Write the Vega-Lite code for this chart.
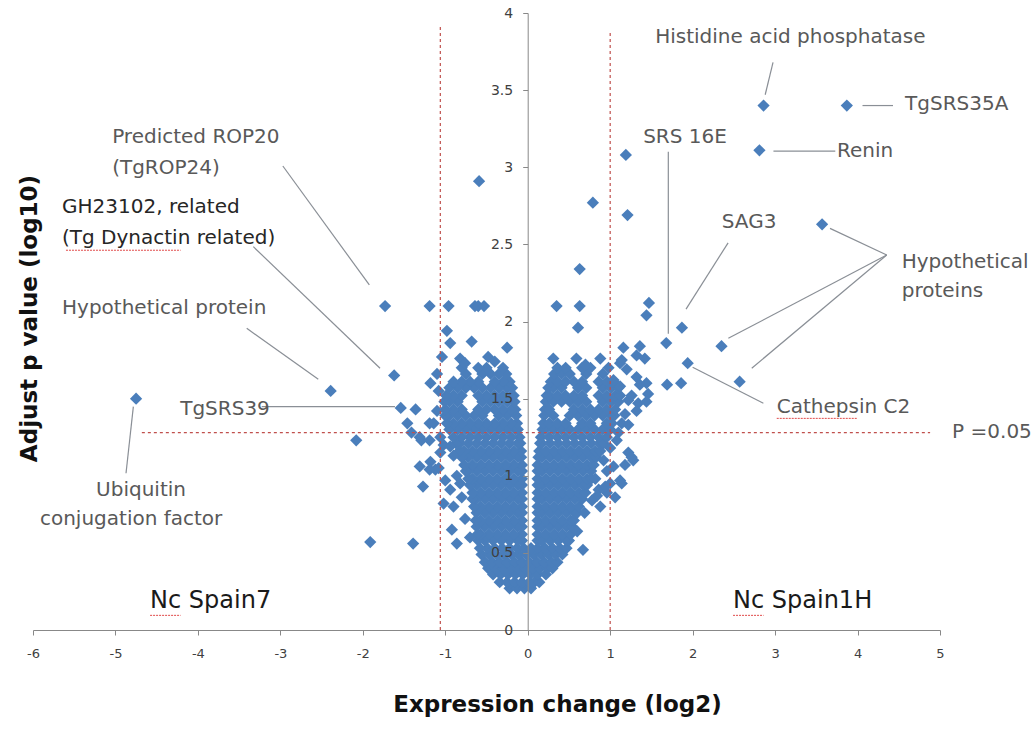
{
"$schema": "https://vega.github.io/schema/vega-lite/v6.json",
"width": 907, "height": 617,
"autosize": {"type": "none"},
"padding": {"left": 33, "top": 13, "right": 96, "bottom": 107},
"background": "white",
"config": {"view": {"stroke": null}, "font": "DejaVu Sans"},
"datasets": {
"pts": [
{"x":-0.22,"y":0.27},{"x":-0.13,"y":0.27},{"x":-0.04,"y":0.27},{"x":0.04,"y":0.27},
{"x":-0.34,"y":0.31},{"x":-0.25,"y":0.31},{"x":-0.16,"y":0.31},{"x":-0.07,"y":0.31},{"x":0.02,"y":0.31},{"x":0.08,"y":0.31},{"x":0.14,"y":0.31},
{"x":-0.42,"y":0.36},{"x":-0.33,"y":0.36},{"x":-0.24,"y":0.36},{"x":-0.15,"y":0.36},{"x":-0.06,"y":0.36},{"x":0.03,"y":0.36},{"x":0.12,"y":0.36},{"x":0.22,"y":0.36},
{"x":-0.48,"y":0.40},{"x":-0.39,"y":0.40},{"x":-0.3,"y":0.40},{"x":-0.21,"y":0.40},{"x":-0.12,"y":0.40},{"x":-0.03,"y":0.40},{"x":0.06,"y":0.40},{"x":0.15,"y":0.40},{"x":0.24,"y":0.40},{"x":0.3,"y":0.40},
{"x":-0.52,"y":0.44},{"x":-0.43,"y":0.44},{"x":-0.34,"y":0.44},{"x":-0.25,"y":0.44},{"x":-0.16,"y":0.44},{"x":-0.07,"y":0.44},{"x":0.02,"y":0.44},{"x":0.11,"y":0.44},{"x":0.2,"y":0.44},{"x":0.29,"y":0.44},{"x":0.36,"y":0.44},
{"x":-0.56,"y":0.49},{"x":-0.47,"y":0.49},{"x":-0.38,"y":0.49},{"x":-0.29,"y":0.49},{"x":-0.2,"y":0.49},{"x":-0.11,"y":0.49},{"x":-0.02,"y":0.49},{"x":0.07,"y":0.49},{"x":0.16,"y":0.49},{"x":0.25,"y":0.49},{"x":0.34,"y":0.49},{"x":0.42,"y":0.49},
{"x":-0.58,"y":0.53},{"x":-0.49,"y":0.53},{"x":-0.4,"y":0.53},{"x":-0.31,"y":0.53},{"x":-0.22,"y":0.53},{"x":-0.13,"y":0.53},{"x":-0.05,"y":0.53},{"x":0.04,"y":0.53},{"x":0.12,"y":0.53},{"x":0.21,"y":0.53},{"x":0.3,"y":0.53},{"x":0.39,"y":0.53},{"x":0.47,"y":0.53},
{"x":-0.07,"y":0.58},{"x":-0.12,"y":0.58},{"x":-0.22,"y":0.58},{"x":-0.32,"y":0.58},{"x":-0.42,"y":0.58},{"x":-0.52,"y":0.58},{"x":-0.6,"y":0.58},{"x":0.12,"y":0.58},{"x":0.17,"y":0.58},{"x":0.27,"y":0.58},{"x":0.37,"y":0.58},{"x":0.47,"y":0.58},{"x":0.5,"y":0.58},
{"x":-0.07,"y":0.62},{"x":-0.17,"y":0.62},{"x":-0.27,"y":0.62},{"x":-0.37,"y":0.62},{"x":-0.47,"y":0.62},{"x":-0.57,"y":0.62},{"x":-0.61,"y":0.62},{"x":0.12,"y":0.62},{"x":0.22,"y":0.62},{"x":0.32,"y":0.62},{"x":0.42,"y":0.62},{"x":0.52,"y":0.62},
{"x":-0.07,"y":0.67},{"x":-0.12,"y":0.67},{"x":-0.22,"y":0.67},{"x":-0.32,"y":0.67},{"x":-0.42,"y":0.67},{"x":-0.52,"y":0.67},{"x":-0.62,"y":0.67},{"x":0.12,"y":0.67},{"x":0.17,"y":0.67},{"x":0.27,"y":0.67},{"x":0.37,"y":0.67},{"x":0.47,"y":0.67},{"x":0.54,"y":0.67},
{"x":-0.07,"y":0.71},{"x":-0.17,"y":0.71},{"x":-0.27,"y":0.71},{"x":-0.37,"y":0.71},{"x":-0.47,"y":0.71},{"x":-0.57,"y":0.71},{"x":-0.63,"y":0.71},{"x":0.12,"y":0.71},{"x":0.22,"y":0.71},{"x":0.32,"y":0.71},{"x":0.42,"y":0.71},{"x":0.52,"y":0.71},{"x":0.56,"y":0.71},
{"x":-0.07,"y":0.76},{"x":-0.12,"y":0.76},{"x":-0.22,"y":0.76},{"x":-0.32,"y":0.76},{"x":-0.42,"y":0.76},{"x":-0.52,"y":0.76},{"x":-0.62,"y":0.76},{"x":0.12,"y":0.76},{"x":0.17,"y":0.76},{"x":0.27,"y":0.76},{"x":0.37,"y":0.76},{"x":0.47,"y":0.76},{"x":0.57,"y":0.76},{"x":0.6,"y":0.76},
{"x":-0.07,"y":0.80},{"x":-0.17,"y":0.80},{"x":-0.27,"y":0.80},{"x":-0.37,"y":0.80},{"x":-0.47,"y":0.80},{"x":-0.57,"y":0.80},{"x":-0.65,"y":0.80},{"x":0.12,"y":0.80},{"x":0.22,"y":0.80},{"x":0.32,"y":0.80},{"x":0.42,"y":0.80},{"x":0.52,"y":0.80},{"x":0.62,"y":0.80},
{"x":-0.07,"y":0.85},{"x":-0.12,"y":0.85},{"x":-0.22,"y":0.85},{"x":-0.32,"y":0.85},{"x":-0.42,"y":0.85},{"x":-0.52,"y":0.85},{"x":-0.62,"y":0.85},{"x":-0.67,"y":0.85},{"x":0.12,"y":0.85},{"x":0.17,"y":0.85},{"x":0.27,"y":0.85},{"x":0.37,"y":0.85},{"x":0.47,"y":0.85},{"x":0.57,"y":0.85},{"x":0.66,"y":0.85},
{"x":-0.07,"y":0.89},{"x":-0.17,"y":0.89},{"x":-0.27,"y":0.89},{"x":-0.37,"y":0.89},{"x":-0.47,"y":0.89},{"x":-0.57,"y":0.89},{"x":-0.67,"y":0.89},{"x":0.12,"y":0.89},{"x":0.22,"y":0.89},{"x":0.32,"y":0.89},{"x":0.42,"y":0.89},{"x":0.52,"y":0.89},{"x":0.62,"y":0.89},{"x":0.7,"y":0.89},
{"x":-0.07,"y":0.94},{"x":-0.12,"y":0.94},{"x":-0.22,"y":0.94},{"x":-0.32,"y":0.94},{"x":-0.42,"y":0.94},{"x":-0.52,"y":0.94},{"x":-0.62,"y":0.94},{"x":-0.7,"y":0.94},{"x":0.12,"y":0.94},{"x":0.17,"y":0.94},{"x":0.27,"y":0.94},{"x":0.37,"y":0.94},{"x":0.47,"y":0.94},{"x":0.57,"y":0.94},{"x":0.67,"y":0.94},{"x":0.72,"y":0.94},
{"x":-0.07,"y":0.98},{"x":-0.17,"y":0.98},{"x":-0.27,"y":0.98},{"x":-0.37,"y":0.98},{"x":-0.47,"y":0.98},{"x":-0.57,"y":0.98},{"x":-0.67,"y":0.98},{"x":-0.72,"y":0.98},{"x":0.12,"y":0.98},{"x":0.22,"y":0.98},{"x":0.32,"y":0.98},{"x":0.42,"y":0.98},{"x":0.52,"y":0.98},{"x":0.62,"y":0.98},{"x":0.72,"y":0.98},{"x":0.77,"y":0.98},
{"x":-0.07,"y":1.03},{"x":-0.12,"y":1.03},{"x":-0.22,"y":1.03},{"x":-0.32,"y":1.03},{"x":-0.42,"y":1.03},{"x":-0.52,"y":1.03},{"x":-0.62,"y":1.03},{"x":-0.72,"y":1.03},{"x":-0.75,"y":1.03},{"x":0.12,"y":1.03},{"x":0.17,"y":1.03},{"x":0.27,"y":1.03},{"x":0.37,"y":1.03},{"x":0.47,"y":1.03},{"x":0.57,"y":1.03},{"x":0.67,"y":1.03},{"x":0.77,"y":1.03},
{"x":-0.07,"y":1.07},{"x":-0.17,"y":1.07},{"x":-0.27,"y":1.07},{"x":-0.37,"y":1.07},{"x":-0.47,"y":1.07},{"x":-0.57,"y":1.07},{"x":-0.67,"y":1.07},{"x":-0.77,"y":1.07},{"x":0.12,"y":1.07},{"x":0.22,"y":1.07},{"x":0.32,"y":1.07},{"x":0.42,"y":1.07},{"x":0.52,"y":1.07},{"x":0.62,"y":1.07},{"x":0.72,"y":1.07},{"x":0.8,"y":1.07},
{"x":-0.08,"y":1.12},{"x":-0.12,"y":1.12},{"x":-0.22,"y":1.12},{"x":-0.32,"y":1.12},{"x":-0.42,"y":1.12},{"x":-0.52,"y":1.12},{"x":-0.62,"y":1.12},{"x":-0.72,"y":1.12},{"x":-0.8,"y":1.12},{"x":0.13,"y":1.12},{"x":0.17,"y":1.12},{"x":0.27,"y":1.12},{"x":0.37,"y":1.12},{"x":0.47,"y":1.12},{"x":0.57,"y":1.12},{"x":0.67,"y":1.12},{"x":0.77,"y":1.12},{"x":0.83,"y":1.12},
{"x":-0.08,"y":1.16},{"x":-0.17,"y":1.16},{"x":-0.27,"y":1.16},{"x":-0.37,"y":1.16},{"x":-0.47,"y":1.16},{"x":-0.57,"y":1.16},{"x":-0.67,"y":1.16},{"x":-0.77,"y":1.16},{"x":-0.83,"y":1.16},{"x":0.14,"y":1.16},{"x":0.22,"y":1.16},{"x":0.32,"y":1.16},{"x":0.42,"y":1.16},{"x":0.52,"y":1.16},{"x":0.62,"y":1.16},{"x":0.72,"y":1.16},{"x":0.82,"y":1.16},{"x":0.88,"y":1.16},
{"x":-0.09,"y":1.21},{"x":-0.12,"y":1.21},{"x":-0.22,"y":1.21},{"x":-0.32,"y":1.21},{"x":-0.42,"y":1.21},{"x":-0.52,"y":1.21},{"x":-0.62,"y":1.21},{"x":-0.72,"y":1.21},{"x":-0.82,"y":1.21},{"x":-0.87,"y":1.21},{"x":0.15,"y":1.21},{"x":0.17,"y":1.21},{"x":0.27,"y":1.21},{"x":0.37,"y":1.21},{"x":0.47,"y":1.21},{"x":0.57,"y":1.21},{"x":0.67,"y":1.21},{"x":0.77,"y":1.21},{"x":0.87,"y":1.21},{"x":0.92,"y":1.21},
{"x":-0.1,"y":1.25},{"x":-0.2,"y":1.25},{"x":-0.3,"y":1.25},{"x":-0.4,"y":1.25},{"x":-0.5,"y":1.25},{"x":-0.6,"y":1.25},{"x":-0.7,"y":1.25},{"x":-0.8,"y":1.25},{"x":-0.9,"y":1.25},{"x":0.16,"y":1.25},{"x":0.26,"y":1.25},{"x":0.36,"y":1.25},{"x":0.46,"y":1.25},{"x":0.56,"y":1.25},{"x":0.66,"y":1.25},{"x":0.76,"y":1.25},{"x":0.86,"y":1.25},{"x":0.96,"y":1.25},
{"x":-0.12,"y":1.30},{"x":-0.15,"y":1.30},{"x":-0.25,"y":1.30},{"x":-0.35,"y":1.30},{"x":-0.45,"y":1.30},{"x":-0.55,"y":1.30},{"x":-0.65,"y":1.30},{"x":-0.75,"y":1.30},{"x":-0.85,"y":1.30},{"x":-0.95,"y":1.30},{"x":0.18,"y":1.30},{"x":0.21,"y":1.30},{"x":0.31,"y":1.30},{"x":0.41,"y":1.30},{"x":0.51,"y":1.30},{"x":0.61,"y":1.30},{"x":0.71,"y":1.30},{"x":0.81,"y":1.30},{"x":0.91,"y":1.30},{"x":1.0,"y":1.30},
{"x":-0.13,"y":1.34},{"x":-0.2,"y":1.34},{"x":-0.3,"y":1.34},{"x":-0.4,"y":1.34},{"x":-0.5,"y":1.34},{"x":-0.6,"y":1.34},{"x":-0.7,"y":1.34},{"x":-0.8,"y":1.34},{"x":-0.9,"y":1.34},{"x":-0.98,"y":1.34},{"x":0.19,"y":1.34},{"x":0.26,"y":1.34},{"x":0.36,"y":1.34},{"x":0.46,"y":1.34},{"x":0.66,"y":1.34},{"x":0.76,"y":1.34},{"x":0.96,"y":1.34},{"x":1.02,"y":1.34},
{"x":-0.14,"y":1.39},{"x":-0.25,"y":1.39},{"x":-0.35,"y":1.39},{"x":-0.55,"y":1.39},{"x":-0.65,"y":1.39},{"x":-0.75,"y":1.39},{"x":-0.85,"y":1.39},{"x":-0.95,"y":1.39},{"x":-1.0,"y":1.39},{"x":0.2,"y":1.39},{"x":0.31,"y":1.39},{"x":0.51,"y":1.39},{"x":0.61,"y":1.39},{"x":0.71,"y":1.39},{"x":0.81,"y":1.39},{"x":0.91,"y":1.39},{"x":1.01,"y":1.39},{"x":1.05,"y":1.39},
{"x":-0.15,"y":1.43},{"x":-0.2,"y":1.43},{"x":-0.3,"y":1.43},{"x":-0.4,"y":1.43},{"x":-0.5,"y":1.43},{"x":-0.6,"y":1.43},{"x":-0.8,"y":1.43},{"x":-0.9,"y":1.43},{"x":-1.0,"y":1.43},{"x":0.21,"y":1.43},{"x":0.26,"y":1.43},{"x":0.56,"y":1.43},{"x":0.66,"y":1.43},{"x":0.76,"y":1.43},{"x":0.86,"y":1.43},{"x":0.96,"y":1.43},{"x":1.06,"y":1.43},
{"x":-0.16,"y":1.48},{"x":-0.25,"y":1.48},{"x":-0.35,"y":1.48},{"x":-0.45,"y":1.48},{"x":-0.55,"y":1.48},{"x":-0.85,"y":1.48},{"x":-0.95,"y":1.48},{"x":-1.01,"y":1.48},{"x":0.22,"y":1.48},{"x":0.31,"y":1.48},{"x":0.41,"y":1.48},{"x":0.51,"y":1.48},{"x":0.61,"y":1.48},{"x":0.71,"y":1.48},{"x":0.91,"y":1.48},{"x":1.01,"y":1.48},{"x":1.1,"y":1.48},
{"x":-0.17,"y":1.52},{"x":-0.2,"y":1.52},{"x":-0.3,"y":1.52},{"x":-0.4,"y":1.52},{"x":-0.5,"y":1.52},{"x":-0.6,"y":1.52},{"x":-0.8,"y":1.52},{"x":-0.9,"y":1.52},{"x":-0.99,"y":1.52},{"x":0.23,"y":1.52},{"x":0.26,"y":1.52},{"x":0.36,"y":1.52},{"x":0.46,"y":1.52},{"x":0.56,"y":1.52},{"x":0.66,"y":1.52},{"x":0.86,"y":1.52},{"x":0.96,"y":1.52},{"x":1.06,"y":1.52},{"x":1.12,"y":1.52},
{"x":-0.19,"y":1.57},{"x":-0.25,"y":1.57},{"x":-0.35,"y":1.57},{"x":-0.45,"y":1.57},{"x":-0.55,"y":1.57},{"x":-0.65,"y":1.57},{"x":-0.75,"y":1.57},{"x":-0.85,"y":1.57},{"x":-0.95,"y":1.57},{"x":0.25,"y":1.57},{"x":0.31,"y":1.57},{"x":0.41,"y":1.57},{"x":0.61,"y":1.57},{"x":0.71,"y":1.57},{"x":0.91,"y":1.57},{"x":1.01,"y":1.57},{"x":1.1,"y":1.57},
{"x":-0.22,"y":1.61},{"x":-0.3,"y":1.61},{"x":-0.4,"y":1.61},{"x":-0.6,"y":1.61},{"x":-0.7,"y":1.61},{"x":-0.8,"y":1.61},{"x":-0.9,"y":1.61},{"x":0.28,"y":1.61},{"x":0.36,"y":1.61},{"x":0.46,"y":1.61},{"x":0.56,"y":1.61},{"x":0.66,"y":1.61},{"x":0.86,"y":1.61},{"x":0.96,"y":1.61},{"x":1.04,"y":1.61},
{"x":-0.26,"y":1.66},{"x":-0.35,"y":1.66},{"x":-0.45,"y":1.66},{"x":-0.55,"y":1.66},{"x":-0.75,"y":1.66},{"x":0.32,"y":1.66},{"x":0.41,"y":1.66},{"x":0.51,"y":1.66},{"x":0.71,"y":1.66},{"x":0.91,"y":1.66},
{"x":-0.3,"y":1.70},{"x":-0.5,"y":1.70},{"x":-0.6,"y":1.70},{"x":-0.8,"y":1.70},{"x":0.36,"y":1.70},{"x":0.46,"y":1.70},{"x":0.66,"y":1.70},{"x":0.76,"y":1.70},
{"x":-1.73,"y":2.10},{"x":-1.19,"y":2.10},{"x":-0.96,"y":2.10},{"x":-0.64,"y":2.10},{"x":-0.6,"y":2.10},{"x":-0.53,"y":2.10},
{"x":-0.59,"y":2.91},
{"x":-0.98,"y":1.94},{"x":-0.94,"y":1.86},{"x":-0.68,"y":1.87},{"x":-0.25,"y":1.83},
{"x":-1.04,"y":1.77},{"x":-0.82,"y":1.76},{"x":-0.76,"y":1.73},{"x":-0.48,"y":1.77},{"x":-0.4,"y":1.74},
{"x":-1.18,"y":1.60},{"x":-1.08,"y":1.55},{"x":-1.1,"y":1.66},
{"x":-1.62,"y":1.65},{"x":-2.39,"y":1.55},{"x":-4.75,"y":1.50},
{"x":-1.54,"y":1.44},{"x":-1.36,"y":1.43},{"x":-1.46,"y":1.34},{"x":-1.19,"y":1.34},{"x":-1.41,"y":1.28},{"x":-1.29,"y":1.23},{"x":-2.08,"y":1.23},{"x":-1.14,"y":1.34},{"x":-1.31,"y":1.25},{"x":-1.19,"y":1.23},{"x":-1.06,"y":1.25},{"x":-1.1,"y":1.42},{"x":-1.02,"y":1.2},
{"x":-1.31,"y":1.06},{"x":-1.18,"y":1.09},{"x":-1.12,"y":1.04},{"x":-1.06,"y":1.15},{"x":-0.94,"y":1.19},{"x":-0.9,"y":1.13},{"x":-1.19,"y":1.04},{"x":-1.08,"y":1.05},
{"x":-1.27,"y":0.93},{"x":-1.0,"y":0.97},{"x":-0.94,"y":0.91},{"x":-0.86,"y":1.0},{"x":-0.82,"y":0.95},
{"x":-1.02,"y":0.82},{"x":-0.9,"y":0.80},{"x":-0.8,"y":0.86},{"x":-0.76,"y":0.72},
{"x":-0.92,"y":0.65},{"x":-0.86,"y":0.56},{"x":-1.39,"y":0.56},{"x":-1.91,"y":0.57},{"x":-0.7,"y":0.6},
{"x":0.35,"y":2.10},{"x":0.63,"y":2.10},{"x":1.44,"y":2.04},{"x":1.47,"y":2.12},{"x":0.61,"y":1.96},{"x":0.63,"y":2.34},{"x":0.79,"y":2.77},{"x":1.19,"y":3.08},{"x":1.21,"y":2.69},
{"x":2.86,"y":3.40},{"x":3.87,"y":3.40},{"x":2.81,"y":3.11},{"x":3.57,"y":2.63},
{"x":1.87,"y":1.96},{"x":1.68,"y":1.86},{"x":2.35,"y":1.84},{"x":1.94,"y":1.73},{"x":2.57,"y":1.61},{"x":1.69,"y":1.59},{"x":1.86,"y":1.60},
{"x":1.16,"y":1.83},{"x":1.36,"y":1.84},{"x":1.32,"y":1.78},{"x":1.42,"y":1.76},{"x":1.14,"y":1.75},{"x":1.12,"y":1.73},{"x":1.2,"y":1.69},{"x":1.32,"y":1.64},{"x":1.04,"y":1.62},{"x":1.12,"y":1.58},
{"x":0.31,"y":1.76},{"x":0.59,"y":1.76},{"x":0.88,"y":1.76},{"x":0.7,"y":1.72},{"x":0.98,"y":1.7},
{"x":1.44,"y":1.60},{"x":1.46,"y":1.53},{"x":1.34,"y":1.47},{"x":1.22,"y":1.49},{"x":1.32,"y":1.42},{"x":1.44,"y":1.48},{"x":1.36,"y":1.59},{"x":1.26,"y":1.52},{"x":1.18,"y":1.4},{"x":1.14,"y":1.34},{"x":1.22,"y":1.33},
{"x":1.10,"y":1.28},{"x":1.08,"y":1.23},{"x":1.0,"y":1.18},{"x":1.22,"y":1.15},{"x":1.28,"y":1.10},{"x":1.18,"y":1.07},{"x":1.26,"y":1.12},{"x":1.04,"y":1.06},{"x":0.92,"y":1.1},{"x":0.96,"y":1.03},
{"x":1.12,"y":0.97},{"x":1.0,"y":0.95},{"x":1.06,"y":0.86},{"x":0.96,"y":0.89},{"x":0.86,"y":0.91},{"x":0.84,"y":0.87},{"x":0.94,"y":0.93},{"x":1.14,"y":0.95},{"x":0.88,"y":0.80},{"x":0.69,"y":0.76},{"x":0.78,"y":0.84},{"x":0.82,"y":0.98},
{"x":0.67,"y":0.52},{"x":0.6,"y":0.64}
],
"refl": [
{"x":-1.06,"y":0,"x2":-1.06,"y2":3.92},
{"x":1.0,"y":0,"x2":1.0,"y2":3.89},
{"x":-4.68,"y":1.28,"x2":4.88,"y2":1.28}
],
"lead": [
{"x":2.975,"y":3.68,"x2":2.88,"y2":3.47},
{"x":4.06,"y":3.40,"x2":4.43,"y2":3.40},
{"x":2.98,"y":3.105,"x2":3.73,"y2":3.105},
{"x":1.705,"y":3.10,"x2":1.705,"y2":1.92},
{"x":2.43,"y":2.51,"x2":1.92,"y2":2.08},
{"x":4.354,"y":2.431,"x2":3.666,"y2":2.604},
{"x":4.354,"y":2.431,"x2":2.433,"y2":1.891},
{"x":4.354,"y":2.431,"x2":2.717,"y2":1.697},
{"x":2.0,"y":1.703,"x2":2.858,"y2":1.47},
{"x":-2.97,"y":3.008,"x2":-1.921,"y2":2.237},
{"x":-3.328,"y":2.485,"x2":-1.791,"y2":1.697},
{"x":-3.408,"y":1.956,"x2":-2.54,"y2":1.625},
{"x":-3.226,"y":1.448,"x2":-1.61,"y2":1.448},
{"x":-4.783,"y":1.448,"x2":-4.872,"y2":1.016}
],
"squig": [
{"x":-4.58,"y":0.095,"x2":-4.21,"y2":0.095},
{"x":2.49,"y":0.095,"x2":2.86,"y2":0.095},
{"x":3.02,"y":1.372,"x2":4.0,"y2":1.372},
{"x":-5.6,"y":2.462,"x2":-4.21,"y2":2.462}
],
"lab": [
{"x":1.546,"y":3.844,"t":"Histidine acid phosphatase"},
{"x":4.576,"y":3.41,"t":"TgSRS35A"},
{"x":3.75,"y":3.107,"t":"Renin"},
{"x":1.40,"y":3.198,"t":"SRS 16E"},
{"x":2.353,"y":2.647,"t":"SAG3"},
{"x":4.536,"y":2.388,"t":"Hypothetical"},
{"x":4.536,"y":2.20,"t":"proteins"},
{"x":3.02,"y":1.448,"t":"Cathepsin C2"},
{"x":5.147,"y":1.286,"t":"P =0.05"},
{"x":-5.04,"y":3.193,"t":"Predicted ROP20"},
{"x":-5.04,"y":2.995,"t":"(TgROP24)"},
{"x":-5.648,"y":2.087,"t":"Hypothetical protein"},
{"x":-4.215,"y":1.433,"t":"TgSRS39"}
],
"labd": [
{"x":-5.648,"y":2.742,"t":"GH23102, related"},
{"x":-5.648,"y":2.541,"t":"(Tg Dynactin related)"}
],
"labc": [
{"x":-4.69,"y":0.908,"t":"Ubiquitin"},
{"x":-4.81,"y":0.72,"t":"conjugation factor"}
],
"labn": [
{"x":-4.58,"y":0.188,"t":"Nc Spain7"},
{"x":2.49,"y":0.188,"t":"Nc Spain1H"}
]
},
"encoding": {
"x": {"field": "x", "type": "quantitative",
 "scale": {"domain": [-6, 5], "nice": false, "zero": false},
 "axis": {"values": [-6,-5,-4,-3,-2,-1,0,1,2,3,4,5], "labelExpr": "'' + datum.value", "grid": false,
  "domainColor": "#888888", "tickColor": "#888888", "tickSize": 5, "labelPadding": 12, "labelFlush": false,
  "labelFont": "DejaVu Sans", "labelFontSize": 13, "labelColor": "#404040",
  "title": "Expression change (log2)", "titleFont": "DejaVu Sans", "titleFontSize": 23, "titleFontWeight": "bold",
  "titleColor": "#111111", "titleX": 524, "titleY": 81, "titleBaseline": "alphabetic", "titleAlign": "center"}},
"y": {"field": "y", "type": "quantitative",
 "scale": {"domain": [0, 4], "nice": false, "zero": false},
 "axis": {"values": [0,0.5,1,1.5,2,2.5,3,3.5,4], "labelExpr": "'' + datum.value", "grid": false, "offset": -494.7,
  "domainColor": "#888888", "tickColor": "#888888", "tickSize": 5, "labelPadding": 10, "labelFlush": false,
  "labelFont": "DejaVu Sans", "labelFontSize": 14, "labelColor": "#404040", "zindex": 1,
  "title": "Adjust p value (log10)", "titleFont": "DejaVu Sans", "titleFontSize": 23, "titleFontWeight": "bold",
  "titleColor": "#111111", "titleX": -491.7, "titleY": 305, "titleAngle": 270, "titleBaseline": "alphabetic", "titleAlign": "center"}}
},
"layer": [
{"data": {"name": "pts"}, "mark": {"type": "point", "shape": "diamond", "filled": true, "size": 150, "color": "#4a7ebb", "opacity": 1, "strokeWidth": 0}},
{"data": {"name": "refl"}, "mark": {"type": "rule", "color": "#c0504d", "strokeWidth": 1.2, "strokeDash": [3, 3]},
 "encoding": {"x2": {"field": "x2"}, "y2": {"field": "y2"}}},
{"data": {"name": "lead"}, "mark": {"type": "rule", "color": "#8a8f96", "strokeWidth": 1.2},
 "encoding": {"x2": {"field": "x2"}, "y2": {"field": "y2"}}},
{"data": {"name": "squig"}, "mark": {"type": "rule", "color": "#e04a4a", "strokeWidth": 1, "strokeDash": [2, 1]},
 "encoding": {"x2": {"field": "x2"}, "y2": {"field": "y2"}}},
{"data": {"name": "lab"}, "mark": {"type": "text", "align": "left", "baseline": "middle", "font": "DejaVu Sans", "fontSize": 20, "color": "#595959"},
 "encoding": {"text": {"field": "t"}}},
{"data": {"name": "labd"}, "mark": {"type": "text", "align": "left", "baseline": "middle", "font": "DejaVu Sans", "fontSize": 20, "color": "#262626"},
 "encoding": {"text": {"field": "t"}}},
{"data": {"name": "labc"}, "mark": {"type": "text", "align": "center", "baseline": "middle", "font": "DejaVu Sans", "fontSize": 20, "color": "#595959"},
 "encoding": {"text": {"field": "t"}}},
{"data": {"name": "labn"}, "mark": {"type": "text", "align": "left", "baseline": "middle", "font": "DejaVu Sans", "fontSize": 24, "color": "#1a1a1a"},
 "encoding": {"text": {"field": "t"}}}
]
}
